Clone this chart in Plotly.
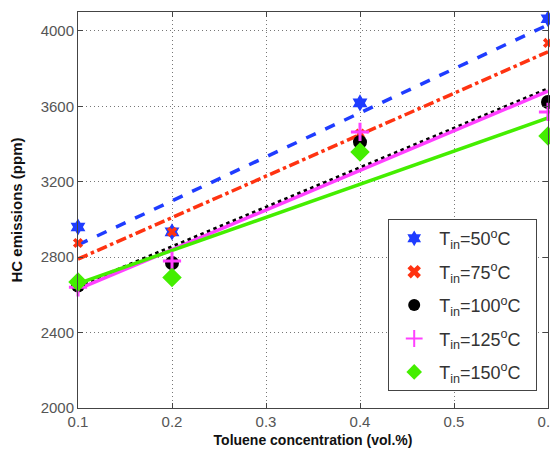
import plotly.graph_objects as go

x_conc = [0.1, 0.2, 0.4, 0.6]
temps = ["50", "75", "100", "125", "150"]
hc_50 = [2960, 2934, 3618, 4064]
hc_75 = [2875, 2934, 3455, 3936]
hc_100 = [2650, 2769, 3410, 3623]
hc_125 = [2640, 2780, 3464, 3570]
hc_150 = [2668, 2692, 3358, 3443]

fit_x = [0.1, 0.6]
fit_50 = [2865, 4032]
fit_75 = [2790, 3889]
fit_100 = [2645, 3692]
fit_125 = [2630, 3680]
fit_150 = [2660, 3538]

series = [hc_50, hc_75, hc_100, hc_125, hc_150]
fits = [fit_50, fit_75, fit_100, fit_125, fit_150]
colors = ["#1f3cff", "#ff3311", "#000000", "#ff40ff", "#44ee00"]
dashes = ["dash", "dashdot", "dot", "solid", "solid"]
symbols = ["hexagram", "x", "circle", "cross-thin", "diamond"]
sizes = [13, 9, 14, 13, 15]

fig = go.Figure()
for f, c, d in zip(fits, colors, dashes):
    fig.add_trace(go.Scatter(x=fit_x, y=f, mode="lines", showlegend=False,
                             line=dict(color=c, width=3.5, dash=d)))
for i, (s, c, sym, sz, t) in enumerate(zip(series, colors, symbols, sizes, temps)):
    mk = dict(color=c, symbol=sym, size=sz)
    if sym == "cross-thin":
        mk["line"] = dict(color=c, width=3)
    fig.add_trace(go.Scatter(x=x_conc, y=s, mode="markers", marker=mk,
                             cliponaxis=False, legendgroup=str(i),
                             name="T<sub>in</sub>=" + t + "<sup>o</sup>C&nbsp;&nbsp;"))

axis_common = dict(showline=True, linecolor="#444", linewidth=1, mirror="ticks",
                   ticks="inside", ticklen=5, tickcolor="#444",
                   showgrid=True, gridcolor="#777", griddash="1px,3px", gridwidth=1,
                   zeroline=False, automargin=False, ticklabeloverflow="allow",
                   tickfont=dict(family="Liberation Sans, Arial", size=15, color="#555"))

fig.update_layout(
    width=550, height=452,
    margin=dict(l=70, r=10, t=4, b=52),
    plot_bgcolor="white", paper_bgcolor="white",
    xaxis=dict(range=[0.1, 0.6], tickvals=[0.1, 0.2, 0.3, 0.4, 0.5, 0.6],
               ticktext=["0.1", "0.2", "0.3", "0.4", "0.5", "0.6"],
               title=dict(text="<b>Toluene concentration (vol.%)</b>", standoff=6,
                          font=dict(family="Liberation Sans, Arial", size=14, color="#111")),
               **axis_common),
    yaxis=dict(range=[2000, 4100], tickvals=[2000, 2400, 2800, 3200, 3600, 4000],
               title=dict(text="<b>HC emissions (ppm)</b>", standoff=14,
                          font=dict(family="Liberation Sans, Arial", size=15, color="#111")),
               **axis_common),
    legend=dict(x=0.66, y=0.477, xanchor="left", yanchor="top",
                bgcolor="white", bordercolor="#444", borderwidth=1,
                font=dict(family="Liberation Sans, Arial", size=18, color="#333"),
                tracegroupgap=7, itemsizing="constant", itemwidth=40),
)

fig.write_html("out.html")
